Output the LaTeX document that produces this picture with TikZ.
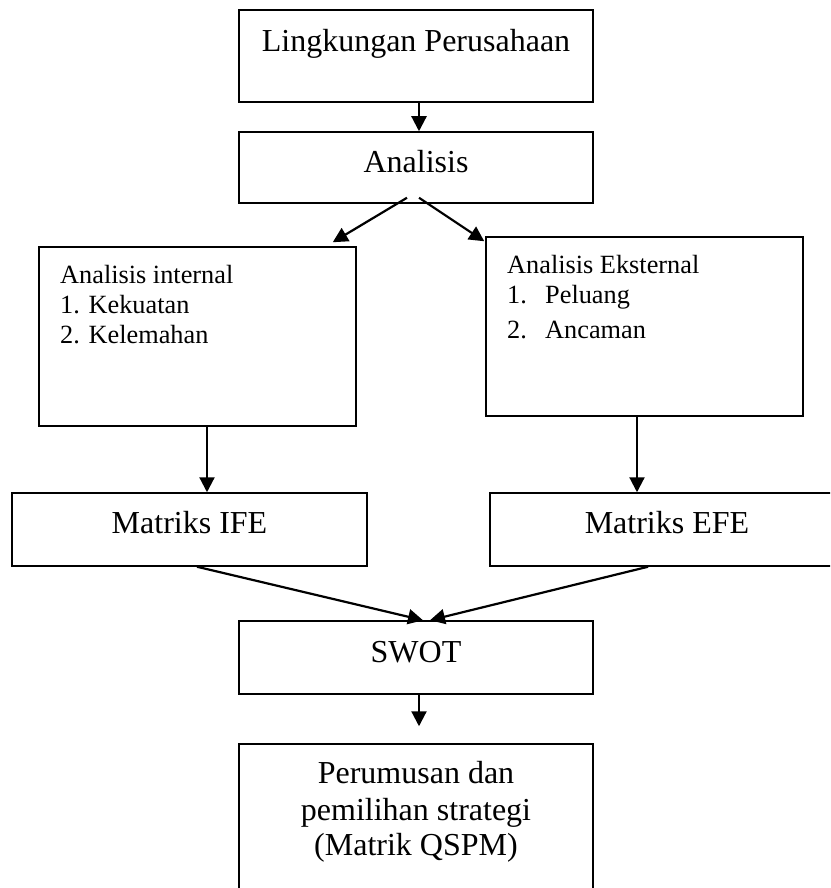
\documentclass[tikz,border=0pt]{standalone}
\usepackage{fontspec}
\setmainfont{Liberation Serif}
\usetikzlibrary{arrows.meta}
\tikzset{
  box/.style={draw, line width=1.5pt, inner sep=0pt},
  arr/.style={line width=2.2pt, -{Triangle[length=15pt,width=15pt]}},
  big/.style={inner sep=0pt, font=\fontsize{32}{38}\selectfont},
  small/.style={inner sep=0pt, anchor=base west, font=\fontsize{26.3}{30}\selectfont}
}
\begin{document}
\begin{tikzpicture}[x=1pt,y=-1pt]
\clip (0,0) rectangle (830,888);
\fill[white] (0,0) rectangle (830,888);
% boxes
\node[box, minimum width=354pt, minimum height=92pt] (lingk) at (416,56) {};
\node[box, minimum width=354pt, minimum height=71pt] (anal) at (416,167.5) {};
\node[box, minimum width=317pt, minimum height=179pt] (intl) at (197.5,336.5) {};
\node[box, minimum width=317pt, minimum height=179pt] (extl) at (644.5,326.5) {};
\node[box, minimum width=355pt, minimum height=73pt] (ife) at (189.5,529.5) {};
\node[box, minimum width=355pt, minimum height=73pt] (efe) at (667.5,529.5) {};
\node[box, minimum width=354pt, minimum height=73pt] (swot) at (416,657.5) {};
\node[box, minimum width=354pt, minimum height=161pt] (rum) at (416,824.5) {};
% texts
\node[big, anchor=base] (t1) at (416,52) {Lingkungan Perusahaan};
\node[big, anchor=base] (t2) at (416,172) {Analisis};
\node[small] (t3) at (60,283) {Analisis internal};
\node[small] (t4) at (60,313) {1. Kekuatan};
\node[small] (t5) at (60,343) {2. Kelemahan};
\node[small] (t6) at (507,273) {Analisis Eksternal};
\node[small] (t7) at (507,303) {1.};
\node[small] (t8) at (545,303) {Peluang};
\node[small] (t9) at (507,338) {2.};
\node[small] (t10) at (545,338) {Ancaman};
\node[big, anchor=base] (t11) at (189.5,533) {Matriks IFE};
\node[big, anchor=base] (t12) at (667,533) {Matriks EFE};
\node[big, anchor=base] (t13) at (416,662) {SWOT};
\node[big, anchor=base] (t14) at (416,783) {Perumusan dan};
\node[big, anchor=base] (t15) at (416,820) {pemilihan strategi};
\node[big, anchor=base] (t16) at (416,855) {(Matrik QSPM)};
% connectors
\draw[arr] ([xshift=3pt]lingk.south) -- ([xshift=3pt]anal.north);
\draw[arr] ([xshift=-9pt,yshift=6pt]anal.south) -- ([xshift=-24pt,yshift=4pt]intl.north east);
\draw[arr] ([xshift=3pt,yshift=6pt]anal.south) -- ([xshift=-1pt,yshift=-5pt]extl.north west);
\draw[arr] ([xshift=9.5pt]intl.south) -- ([xshift=17.5pt]ife.north);
\draw[arr] ([xshift=-7.5pt]extl.south) -- ([xshift=-30.5pt]efe.north);
\draw[arr] ([xshift=7.5pt]ife.south) -- ([xshift=7pt]swot.north);
\draw[arr] ([xshift=-19.5pt]efe.south) -- ([xshift=14pt]swot.north);
\draw[arr] ([xshift=3pt]swot.south) -- ([xshift=3pt,yshift=17pt]rum.north);
\end{tikzpicture}
\end{document}
